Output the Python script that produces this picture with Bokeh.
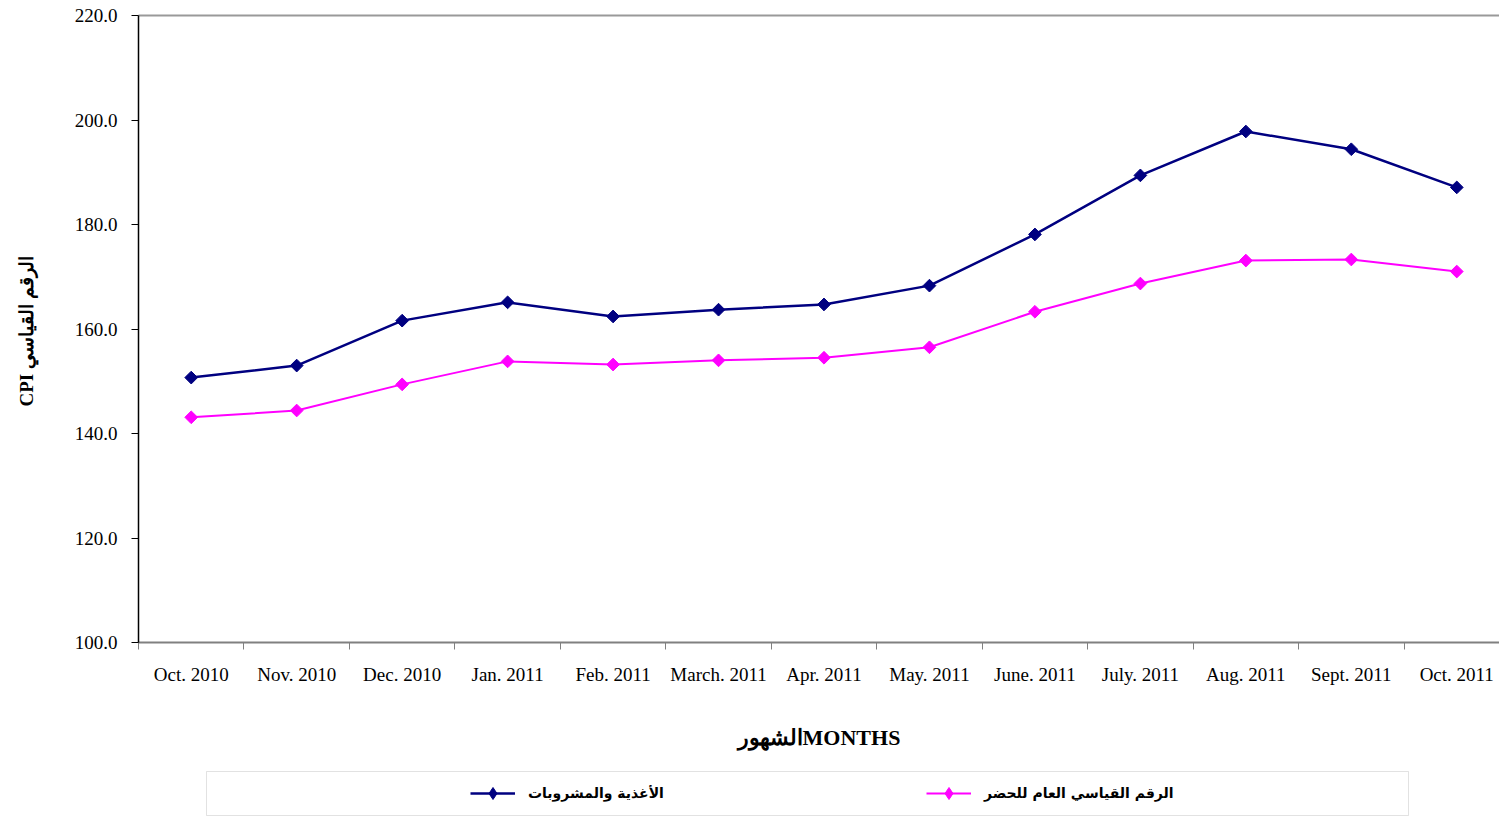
import numpy as np
from bokeh.plotting import figure
from bokeh.layouts import column
from bokeh.models import (Legend, LegendItem, LinearAxis, FixedTicker, Range1d,
                          NumeralTickFormatter, BoxAnnotation)
from bokeh.embed import file_html
from bokeh.resources import INLINE

months = ["Oct. 2010", "Nov. 2010", "Dec. 2010", "Jan. 2011", "Feb. 2011",
          "March. 2011", "Apr. 2011", "May. 2011", "June. 2011", "July. 2011",
          "Aug. 2011", "Sept. 2011", "Oct. 2011"]
food_bev = [150.7, 153.0, 161.6, 165.1, 162.4, 163.7, 164.7, 168.3, 178.1,
            189.4, 197.8, 194.4, 187.1]
urban_cpi = [143.1, 144.4, 149.4, 153.8, 153.2, 154.0, 154.5, 156.5, 163.3,
             168.7, 173.1, 173.3, 171.0]
y_ticks = [100, 120, 140, 160, 180, 200, 220]
food_label = "الأغذية والمشروبات"
urban_label = "الرقم القياسي العام للحضر"
x_title = "الشهورMONTHS"
y_title = "CPI الرقم  القياسي"

n = len(months)
x = [i + 0.5 for i in range(n)]

navy = "#000080"
magenta = "#FF00FF"
serif = "Liberation Serif"

# the original plot area runs slightly past the right edge of the picture
x_end = n * 1361 / 1371

H1 = 762
p = figure(width=1499, height=H1, x_range=Range1d(0, x_end),
           y_range=Range1d(y_ticks[0], y_ticks[-1]),
           output_backend="svg", toolbar_location=None,
           min_border_left=138, min_border_right=0, min_border_top=15,
           min_border_bottom=H1 - 642)
p.xgrid.visible = False
p.ygrid.visible = False
p.outline_line_color = None

r1l = p.line(x, food_bev, line_color=navy, line_width=2.5)
r1s = p.scatter(x, food_bev, marker="square", angle=np.pi / 4, size=9,
                fill_color=navy, line_color=navy)
r2l = p.line(x, urban_cpi, line_color=magenta, line_width=2)
r2s = p.scatter(x, urban_cpi, marker="square", angle=np.pi / 4, size=9,
                fill_color=magenta, line_color=magenta)

# x axis
xa = p.xaxis[0]
xa.ticker = FixedTicker(ticks=x, minor_ticks=list(range(n + 1)))
xa.major_label_overrides = {xi: m for xi, m in zip(x, months)}
xa.major_tick_line_color = None
xa.major_tick_out = 0
xa.major_tick_in = 0
xa.minor_tick_line_color = "#808080"
xa.minor_tick_out = 7
xa.minor_tick_in = 0
xa.axis_line_color = "#808080"
xa.axis_line_width = 2
xa.major_label_text_font = serif
xa.major_label_text_font_size = "19px"
xa.major_label_text_color = "black"
xa.major_label_standoff = 14
xa.axis_label = x_title
xa.axis_label_text_font = serif
xa.axis_label_text_font_size = "22px"
xa.axis_label_text_font_style = "bold"
xa.axis_label_text_color = "black"
xa.axis_label_standoff = 37

# y axis
ya = p.yaxis[0]
ya.ticker = FixedTicker(ticks=y_ticks)
ya.formatter = NumeralTickFormatter(format="0.0")
ya.major_tick_out = 7
ya.major_tick_in = 0
ya.major_tick_line_color = "black"
ya.minor_tick_line_color = None
ya.axis_line_color = "black"
ya.axis_line_width = 1.5
ya.major_label_text_font = serif
ya.major_label_text_font_size = "19px"
ya.major_label_text_color = "black"
ya.major_label_standoff = 14
ya.axis_label = y_title
ya.axis_label_text_font = serif
ya.axis_label_text_font_size = "19px"
ya.axis_label_text_font_style = "bold"
ya.axis_label_text_color = "black"
ya.axis_label_standoff = 35

# top border line
top = LinearAxis(ticker=FixedTicker(ticks=[]), axis_line_color="#999999",
                 axis_line_width=2, major_tick_line_color=None,
                 minor_tick_line_color=None, major_label_text_font_size="0px")
p.add_layout(top, "above")

# legend strip: a second figure with the same side borders, ranges in pixels
H2 = 817 - H1
q = figure(width=1499, height=H2, x_range=Range1d(138, 1499),
           y_range=Range1d(0, H2),
           x_axis_type=None, y_axis_type=None,
           output_backend="svg", toolbar_location=None,
           min_border_left=138, min_border_right=0, min_border_top=0,
           min_border_bottom=0)
q.xgrid.visible = False
q.ygrid.visible = False
q.outline_line_color = None

q.add_layout(BoxAnnotation(left=206, right=1408, bottom=2, top=H2 - 9,
                           fill_alpha=0, line_color="#a0a0a0", line_width=1))

# legend proxies: same series, but they fall outside this strip's ranges
l1l = q.line(x, food_bev, line_color=navy, line_width=2.5)
l1s = q.scatter(x, food_bev, marker="diamond", size=13,
                fill_color=navy, line_color=navy)
l2l = q.line(x, urban_cpi, line_color=magenta, line_width=2)
l2s = q.scatter(x, urban_cpi, marker="diamond", size=13,
                fill_color=magenta, line_color=magenta)

leg = Legend(items=[LegendItem(label=food_label, renderers=[l1l, l1s]),
                    LegendItem(label=urban_label, renderers=[l2l, l2s])],
             orientation="horizontal", location=(332, 9),
             glyph_width=45, glyph_height=30, label_height=30,
             label_standoff=13,
             label_width=380, spacing=18, padding=0, margin=0,
             border_line_color=None, background_fill_alpha=0,
             label_text_font="DejaVu Sans", label_text_font_style="bold",
             label_text_font_size="14px", label_text_color="black")
q.add_layout(leg)

layout = column(p, q, spacing=0)
open("out.html", "w").write(file_html(layout, INLINE))
